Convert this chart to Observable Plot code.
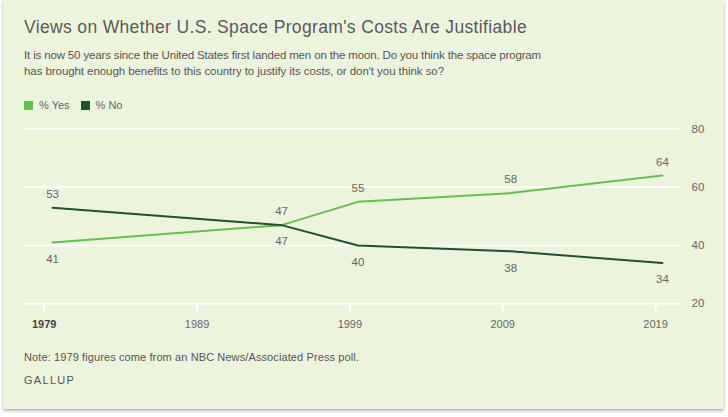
<!DOCTYPE html>
<html>
<head>
<meta charset="utf-8">
<script src="https://cdn.jsdelivr.net/npm/d3@7"></script>
<script src="https://cdn.jsdelivr.net/npm/@observablehq/plot@0.6"></script>
<style>
  html, body { margin: 0; padding: 0; background: #ffffff; width: 728px; height: 417px; overflow: hidden; }
  body { position: relative; font-family: "Liberation Sans", Arial, sans-serif; }
  #card { position: absolute; left: 3px; top: 0px; width: 721px; height: 409px; background: #edf4de;
          box-shadow: 0 2px 3px rgba(0,0,0,0.28), 0 0 1px rgba(0,0,0,0.18); }
  .txt { position: absolute; white-space: nowrap; line-height: 1; }
  #title { left: 24px; top: 19px; font-size: 17.5px; color: #5a5a5a; }
  .sub { left: 24px; font-size: 11.5px; color: #555; }
  #sub1 { top: 50px; }
  #sub2 { top: 66px; }
  #legend { position: absolute; left: 24px; top: 100px; height: 10px; display: flex; align-items: center; font-size: 11px; color: #666; }
  .sw { display: inline-block; width: 9px; height: 9px; margin-right: 6px; }
  .item { display: flex; align-items: center; margin-right: 11px; }
  #note { left: 24px; top: 352px; font-size: 11px; color: #555; }
  #brand { left: 24px; top: 375px; font-size: 11px; color: #555; letter-spacing: 1.3px; }
  #chart { position: absolute; left: 0px; top: 115px; }
</style>
</head>
<body>
<div id="card"></div>
<div id="title" class="txt">Views on Whether U.S. Space Program's Costs Are Justifiable</div>
<div id="sub1" class="txt sub">It is now 50 years since the United States first landed men on the moon. Do you think the space program</div>
<div id="sub2" class="txt sub">has brought enough benefits to this country to justify its costs, or don't you think so?</div>
<div id="legend"></div>
<div id="chart"></div>
<div id="note" class="txt">Note: 1979 figures come from an NBC News/Associated Press poll.</div>
<div id="brand" class="txt">GALLUP</div>
<script>
// ---- data ----
const seriesNames = ["% Yes", "% No"];
const seriesColors = ["#63bf4e", "#1e5230"];
const surveyDates = ["1979-07-20", "1994-07-15", "1999-07-13", "2009-07-10", "2019-06-15"];
const yesValues = [41, 47, 55, 58, 64];
const noValues = [53, 47, 40, 38, 34];
const yTickValues = [20, 40, 60, 80];
const xTickYears = [1979, 1989, 1999, 2009, 2019];

// ---- fit text widths ----
function fit(id, target) {
  const el = document.getElementById(id);
  const w = el.getBoundingClientRect().width;
  const n = el.textContent.length;
  el.style.letterSpacing = ((target - w) / n) + "px";
}
fit("title", 503);
fit("sub1", 517);
fit("sub2", 420);
fit("note", 335);

// ---- legend ----
const legend = document.getElementById("legend");
seriesNames.forEach((name, i) => {
  const item = document.createElement("div");
  item.className = "item";
  const sw = document.createElement("span");
  sw.className = "sw";
  sw.style.background = seriesColors[i];
  const lab = document.createElement("span");
  lab.textContent = name;
  item.appendChild(sw);
  item.appendChild(lab);
  legend.appendChild(item);
});

// ---- table ----
const rows = [];
surveyDates.forEach((d, i) => {
  const date = new Date(d);
  rows.push({date, series: seriesNames[0], value: yesValues[i], above: yesValues[i] >= noValues[i]});
  rows.push({date, series: seriesNames[1], value: noValues[i], above: noValues[i] > yesValues[i]});
});
const tickDates = xTickYears.map(y => new Date(Date.UTC(y, 0, 1)));
const firstTick = tickDates.slice(0, 1);
const otherTicks = tickDates.slice(1);
const fmt = d => String(d.getUTCFullYear());

const chart = Plot.plot({
  width: 728,
  height: 225,
  marginTop: 13.5,
  marginBottom: 36.7,
  marginLeft: 24,
  marginRight: 47,
  style: {background: "transparent", fontFamily: "'Liberation Sans', Arial, sans-serif", overflow: "visible"},
  x: {type: "utc", domain: [new Date("1977-09-17"), new Date("2020-09-13")]},
  y: {domain: [20, 80]},
  color: {domain: seriesNames, range: seriesColors},
  marks: [
    Plot.ruleY(yTickValues, {stroke: "#ffffff", strokeWidth: 1.6}),
    Plot.axisY({anchor: "right", ticks: yTickValues, tickSize: 0, tickPadding: 10, fill: "#666", fontSize: 11.5, label: null}),
    Plot.axisX({ticks: firstTick, tickSize: 10, tickPadding: 6, stroke: "#ffffff", strokeWidth: 2, fill: "#444", fontWeight: "bold", fontSize: 11, tickFormat: fmt, label: null}),
    Plot.axisX({ticks: otherTicks, tickSize: 10, tickPadding: 6, stroke: "#ffffff", strokeWidth: 2, fill: "#666", fontSize: 11, tickFormat: fmt, label: null}),
    Plot.line(rows, {x: "date", y: "value", z: "series", stroke: "series", strokeWidth: 2}),
    Plot.text(rows.filter(r => r.above), {x: "date", y: "value", text: "value", dy: -13.5, fill: "#666", fontSize: 11.5}),
    Plot.text(rows.filter(r => !r.above), {x: "date", y: "value", text: "value", dy: 16.5, fill: "#666", fontSize: 11.5})
  ]
});
document.getElementById("chart").appendChild(chart);
</script>
</body>
</html>
